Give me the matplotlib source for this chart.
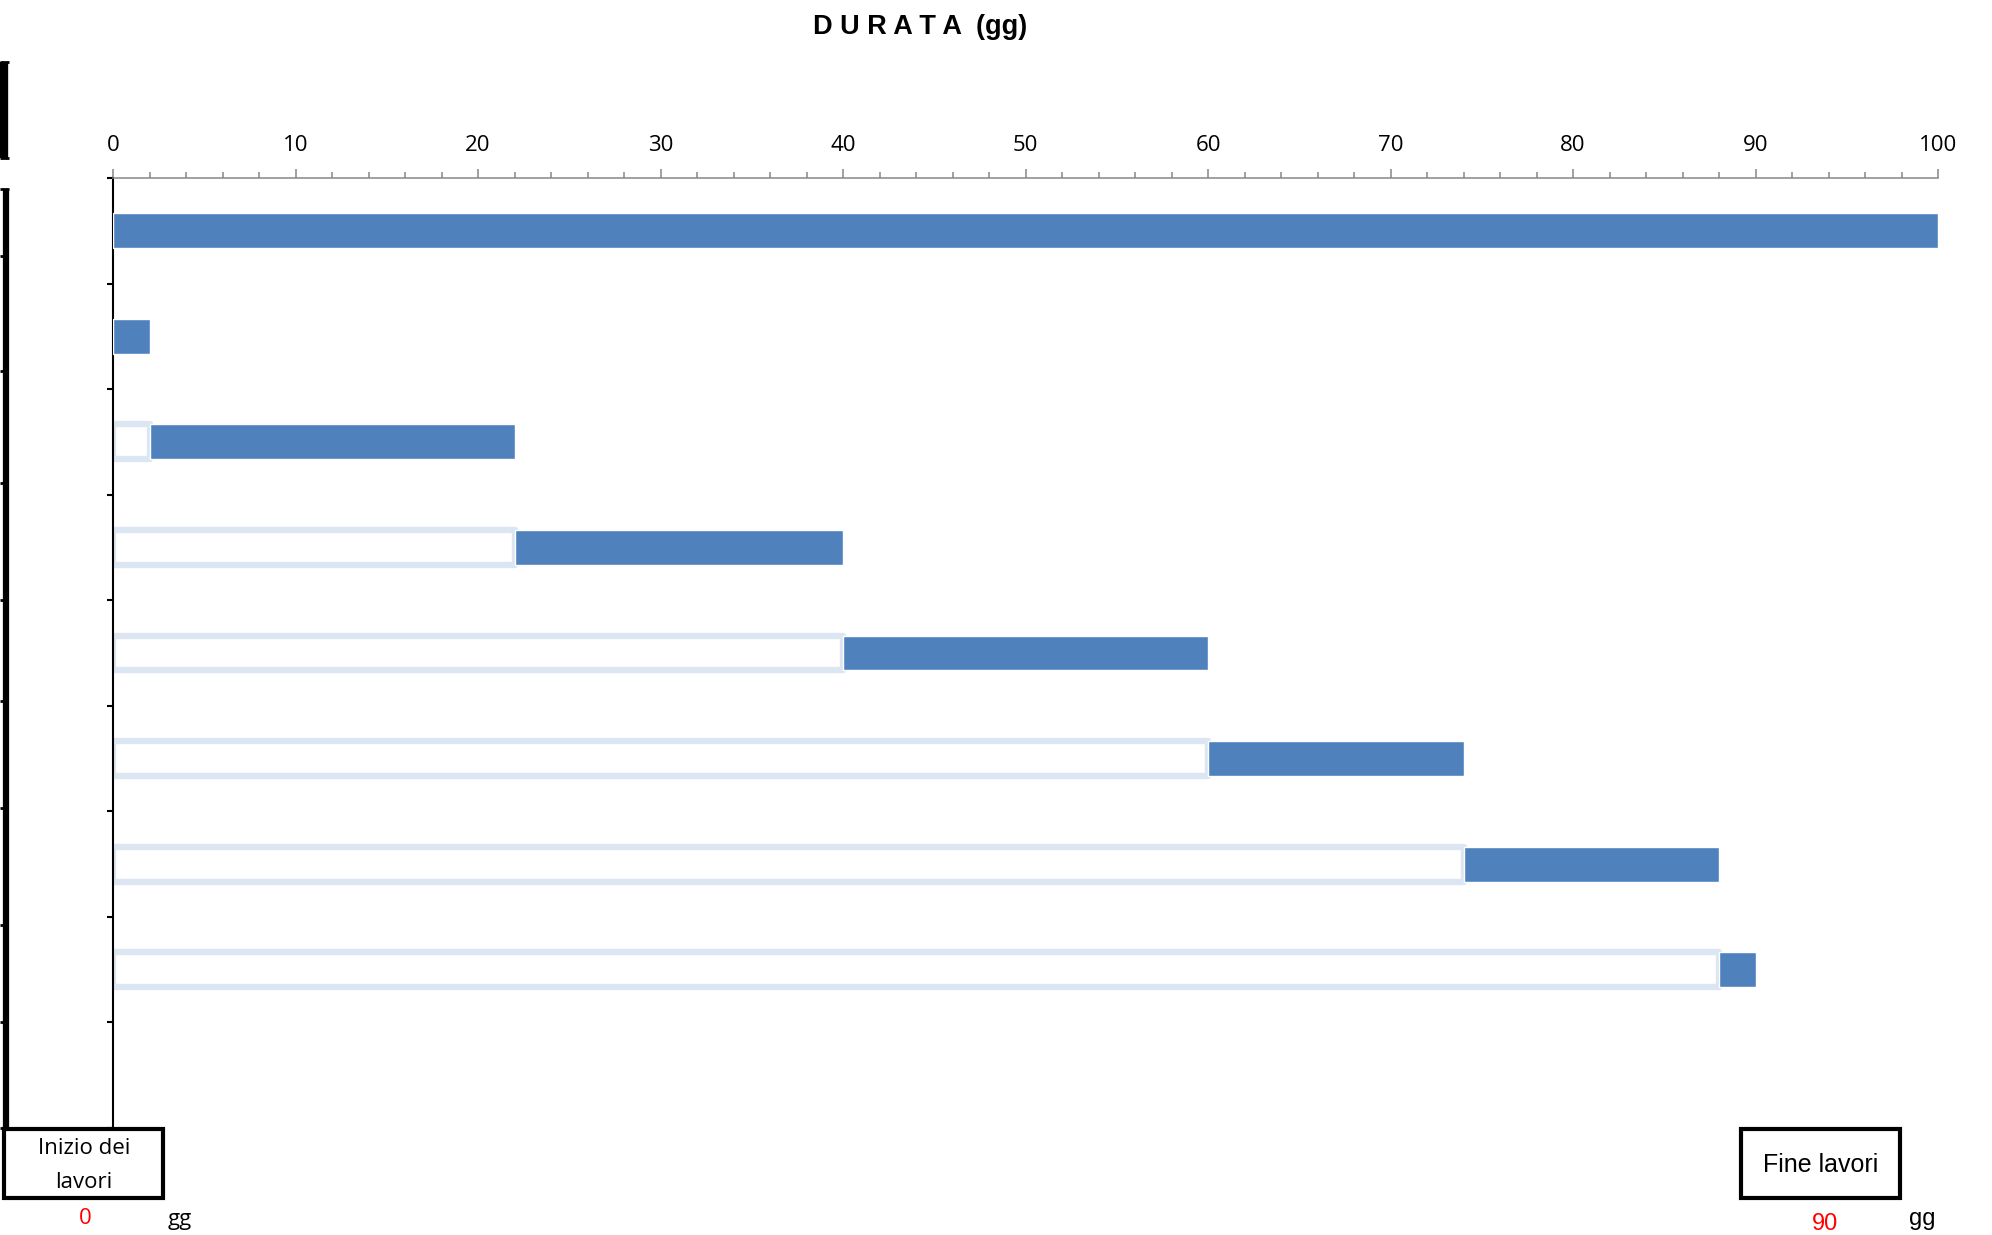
import matplotlib.pyplot as plt
from matplotlib.lines import Line2D
from matplotlib.patches import Rectangle
from matplotlib.ticker import MultipleLocator

# phases of the works (9 rows, last one empty)
start = [0, 0, 2, 22, 40, 60, 74, 88]
durata = [100, 2, 20, 18, 20, 14, 14, 2]
n_rows = 9

title = "D U R A T A  (gg)"
inizio = 0
fine = 90

W, H = 1992, 1235
fig = plt.figure(figsize=(W / 100, H / 100), dpi=100)
ax = fig.add_axes([113 / W, 1 - 1128 / H, (1938 - 113) / W, (1128 - 178) / H])

blue = "#4F81BD"
pale = "#DCE6F2"
ypos = [i + 0.5 for i in range(len(start))]

# hidden "start" series: white with a pale outline
ax.barh(ypos, start, height=0.33, color="white", edgecolor=pale,
        linewidth=4.6, joinstyle="round", zorder=2)
ax.barh(ypos, durata, left=start, height=0.33, color=blue,
        edgecolor="white", linewidth=1.0, zorder=3)

ax.set_xlim(0, 100)
ax.set_ylim(n_rows, 0)

ax.xaxis.tick_top()
ax.xaxis.set_major_locator(MultipleLocator(10))
ax.xaxis.set_minor_locator(MultipleLocator(2))
ax.tick_params(axis="x", which="major", direction="out", length=6.5, width=1.1,
               color="#868686", labelsize=16, pad=9.5)
ax.tick_params(axis="x", which="minor", direction="out", length=4.3, width=1.1,
               color="#868686")
for lab in ax.get_xticklabels():
    lab.set_family("Open Sans")

ax.set_yticks(range(n_rows + 1))
ax.set_yticklabels([])
ax.tick_params(axis="y", direction="out", length=4.5, width=1.5, color="black")

ax.spines["right"].set_visible(False)
ax.spines["bottom"].set_visible(False)
ax.spines["top"].set_color("#868686")
ax.spines["top"].set_linewidth(1.1)
ax.spines["left"].set_color("black")
ax.spines["left"].set_linewidth(1.5)

# title
fig.text(920 / W, 1 - 27 / H, title, ha="center", va="center",
         fontsize=19.5, fontweight="bold", family="Liberation Sans")

# left table edge (leftover cell borders)
def fline(xs, ys, lw, color="black"):
    fig.add_artist(Line2D([x / W for x in xs], [1 - y / H for y in ys],
                          transform=fig.transFigure, color=color, linewidth=lw,
                          solid_capstyle="butt"))

fline([4, 4], [62, 158], 6)
fline([0, 9], [62, 62], 2)
fline([0, 9], [158, 158], 2)
fline([5.5, 5.5], [189, 1128], 4.5)
fline([0, 9], [189, 189], 2)
for y in [256, 371, 483, 600, 701, 808, 925, 1022, 1128]:
    fline([0, 8], [y, y], 2)

# bottom boxes
fig.add_artist(Rectangle((4 / W, 1 - 1198 / H), (163 - 4) / W, (1198 - 1129) / H,
                         transform=fig.transFigure, fill=False,
                         edgecolor="black", linewidth=3))
fig.text(84 / W, 1 - 1149 / H, "Inizio dei", ha="center", va="center",
         fontsize=16, family="Open Sans")
fig.text(84 / W, 1 - 1183 / H, "lavori", ha="center", va="center",
         fontsize=16, family="Open Sans")
fig.text(85 / W, 1 - 1219 / H, str(inizio), ha="center", va="center",
         fontsize=16, color="red", family="Open Sans")
fig.text(180 / W, 1 - 1220 / H, "gg", ha="center", va="center",
         fontsize=16, family="Open Sans")

fig.add_artist(Rectangle((1741 / W, 1 - 1198 / H), (1900 - 1741) / W, (1198 - 1129) / H,
                         transform=fig.transFigure, fill=False,
                         edgecolor="black", linewidth=3))
fig.text(1821 / W, 1 - 1165 / H, "Fine lavori", ha="center", va="center",
         fontsize=18, family="Liberation Sans")
fig.text(1825 / W, 1 - 1224 / H, str(fine), ha="center", va="center",
         fontsize=17, color="red", family="Liberation Sans")
fig.text(1922 / W, 1 - 1219 / H, "gg", ha="center", va="center",
         fontsize=17, family="Liberation Sans")

fig.savefig("out.png", dpi=100)
